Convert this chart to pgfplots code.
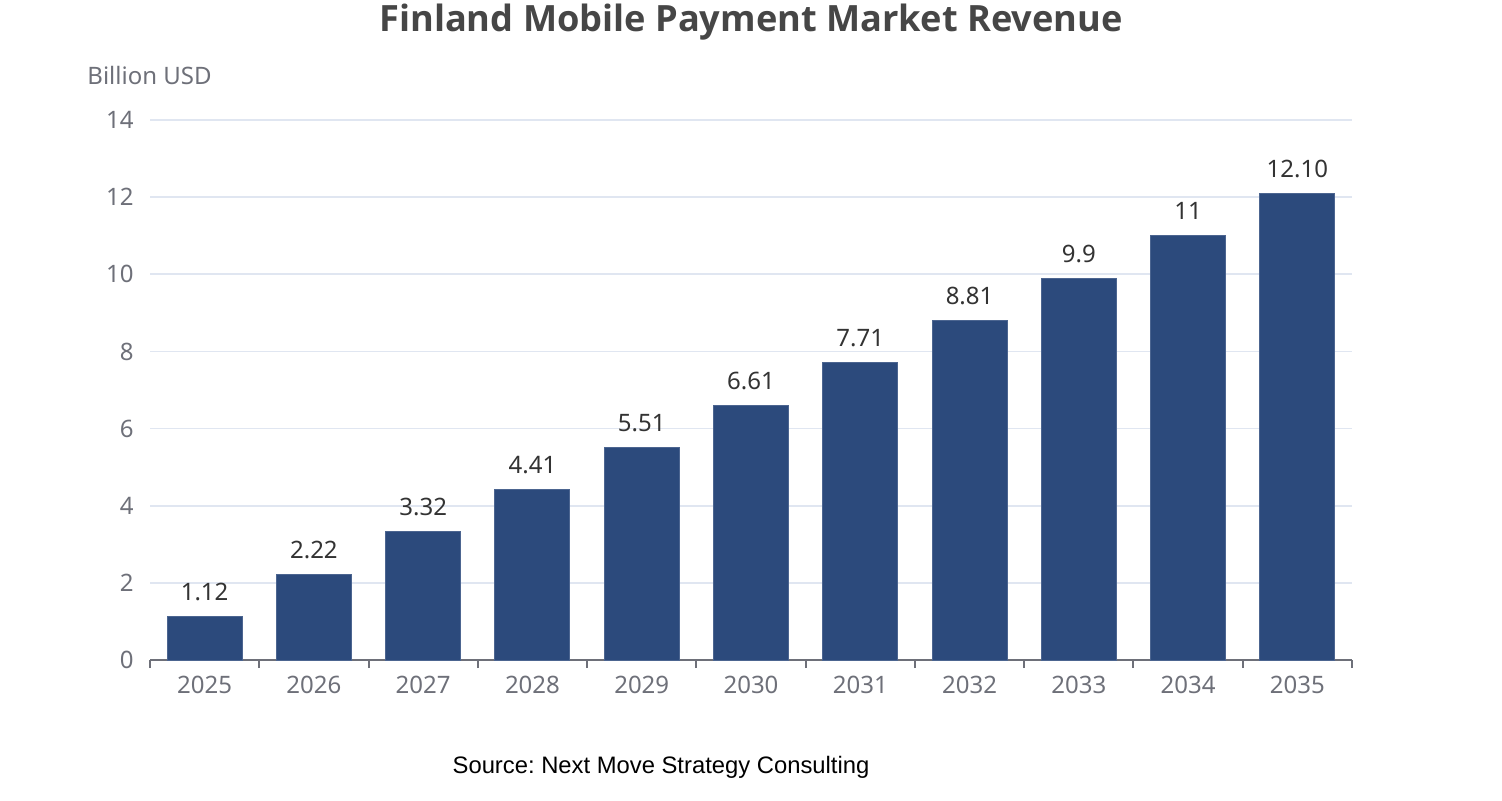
\documentclass[border=0pt]{standalone}
\usepackage{pgfplots}
\pgfplotsset{compat=1.18}
\usepackage{fontspec}
\setmainfont{Noto Sans}
\newfontfamily\titlefont{Open Sans}
\newfontfamily\srcfont{Liberation Sans}
\definecolor{barblue}{HTML}{2C4A7C}
\definecolor{gridc}{HTML}{E0E6F1}
\definecolor{axisc}{HTML}{6E7079}
\definecolor{titlec}{HTML}{464646}
\definecolor{valc}{HTML}{333333}
\frenchspacing
\begin{document}
\begin{tikzpicture}[x=0.5pt,y=0.5pt]
\useasboundingbox (0,0) rectangle (1502,800);
\begin{axis}[
  at={(75pt,70pt)}, anchor=south west,
  scale only axis, width=601pt, height=270pt,
  ybar, bar width=37.5pt,
  xmin=-0.5, xmax=10.5, ymin=0, ymax=14,
  enlargelimits=false,
  axis x line*=bottom, axis y line*=left,
  y axis line style={draw=none},
  x axis line style={draw=axisc, line width=1pt},
  ytick={0,2,...,14},
  ymajorgrids, grid style={draw=gridc, line width=0.8pt},
  major y tick style={draw=none},
  xtick={-0.5,0.5,...,10.5},
  xticklabels={},
  major x tick style={draw=axisc, line width=1pt},
  major tick length=4pt,
  tick align=outside,
  extra x ticks={0,...,10},
  extra x tick labels={2025,2026,2027,2028,2029,2030,2031,2032,2033,2034,2035},
  extra x tick style={major tick length=0pt, grid=none, xticklabel style={inner sep=0pt, anchor=north, yshift=-8pt}},
  tick label style={font=\fontsize{12pt}{14pt}\selectfont, text=axisc},
  yticklabel style={inner sep=0pt, anchor=east, xshift=-4pt},
  /pgf/number format/assume math mode=true,
  point meta=explicit symbolic,
  nodes near coords,
  every node near coord/.append style={font=\fontsize{12pt}{14pt}\selectfont, text=valc, anchor=base, inner sep=0pt, yshift=8pt},
  clip=false,
]
\addplot[fill=barblue, draw=barblue!85!white, line width=0.5pt] coordinates {
 (0,1.12) [1.12]
 (1,2.22) [2.22]
 (2,3.32) [3.32]
 (3,4.41) [4.41]
 (4,5.51) [5.51]
 (5,6.61) [6.61]
 (6,7.71) [7.71]
 (7,8.81) [8.81]
 (8,9.9) [9.9]
 (9,11) [11]
 (10,12.10) [12.10]
};
\end{axis}
\node[font=\titlefont\bfseries\fontsize{18.1pt}{21pt}\selectfont, text=titlec, inner sep=0pt] at (751,778) {Finland Mobile Payment Market Revenue};
\node[font=\fontsize{12pt}{14pt}\selectfont, text=axisc, anchor=west, inner sep=0pt] at (87,725) {Billion USD};
\node[font=\srcfont\fontsize{11.9pt}{13pt}\selectfont, text=black, inner sep=0pt] at (661,33) {Source: Next Move Strategy Consulting};
\end{tikzpicture}
\end{document}
